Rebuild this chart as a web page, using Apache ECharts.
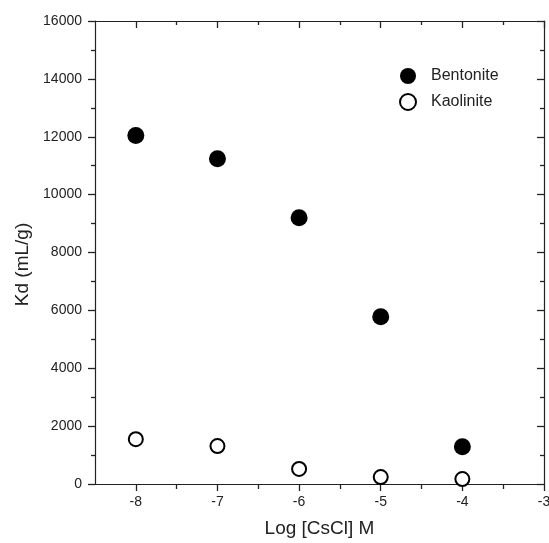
<!DOCTYPE html>
<html>
<head>
<meta charset="utf-8">
<script src="https://cdn.jsdelivr.net/npm/echarts@6/dist/echarts.min.js"></script>
<style>
html, body { margin: 0; padding: 0; background: #fff; }
#main { width: 549px; height: 543px; }
</style>
</head>
<body>
<div id="main"></div>
<script>
// values
var logConc = [-8, -7, -6, -5, -4];
var bentonite = [12040, 11240, 9200, 5780, 1290];
var kaolinite = [1550, 1310, 520, 240, 170];
var xMajor = [-8, -7, -6, -5, -4, -3];
var xMinor = [-7.5, -6.5, -5.5, -4.5, -3.5];

var font = 'Liberation Sans, Arial, sans-serif';
var ink = '#222';

function pairs(ys) {
	return logConc.map(function(x, i) { return [x, ys[i]]; });
}

// one x axis per tick set (major/minor, bottom/top)
function xAxisOf(pos, vals, len, inside, withLine, withLabel) {
	return {
		type: 'value',
		position: pos,
		min: -8.5,
		max: -3,
		interval: 0.5,
		axisLine: { show: withLine, onZero: false, lineStyle: { color: ink, width: 1.2 } },
		axisTick: { show: true, inside: inside, length: len, customValues: vals,
			lineStyle: { color: ink, width: 1.3 } },
		axisLabel: { show: withLabel, customValues: vals, margin: 11,
			color: ink, fontSize: 14, fontFamily: font },
		splitLine: { show: false },
		name: withLabel ? 'Log [CsCl] M' : '',
		nameLocation: 'middle',
		nameGap: 35,
		nameTextStyle: { fontSize: 19, color: ink, fontFamily: font }
	};
}

function yAxisOf(pos, inside, withLabel) {
	return {
		type: 'value',
		position: pos,
		min: 0,
		max: 16000,
		interval: 2000,
		axisLine: { show: true, onZero: false, lineStyle: { color: ink, width: 1.2 } },
		axisTick: { show: true, inside: inside, length: 7, lineStyle: { color: ink, width: 1.3 } },
		minorTick: { show: true, splitNumber: 2, length: 4, lineStyle: { color: ink, width: 1.3 } },
		axisLabel: { show: withLabel, margin: 13, color: ink, fontSize: 14, fontFamily: font,
			formatter: function(v) { return String(v); } },
		splitLine: { show: false },
		name: withLabel ? 'Kd (mL/g)' : '',
		nameLocation: 'middle',
		nameGap: 58,
		nameTextStyle: { fontSize: 19, color: ink, fontFamily: font, padding: [0, 24, 0, 0] }
	};
}

var myChart = echarts.init(document.getElementById('main'));

var option = {
	backgroundColor: '#fff',
	animation: false,
	grid: { left: 95, right: 5, top: 21, bottom: 59, containLabel: false, outerBoundsMode: 'none' },
	legend: {
		orient: 'vertical',
		left: 394,
		top: 63,
		itemWidth: 16,
		itemHeight: 16,
		itemGap: 9,
		textStyle: { fontSize: 16, color: ink, fontFamily: font, padding: [0, 0, 0, 10] },
		data: ['Bentonite', 'Kaolinite']
	},
	xAxis: [
		xAxisOf('bottom', xMajor, 7, false, true, true),
		xAxisOf('bottom', xMinor, 5, false, false, false),
		xAxisOf('top', xMajor, 7, true, true, false),
		xAxisOf('top', xMinor, 4, true, false, false)
	],
	yAxis: [
		yAxisOf('left', false, true),
		yAxisOf('right', true, false)
	],
	series: [{
		name: 'Bentonite',
		type: 'scatter',
		symbol: 'circle',
		symbolSize: 17,
		itemStyle: { color: '#000', opacity: 1 },
		data: pairs(bentonite)
	}, {
		name: 'Kaolinite',
		type: 'scatter',
		symbol: 'circle',
		symbolSize: 14,
		itemStyle: { color: '#fff', borderColor: '#000', borderWidth: 2, opacity: 1 },
		data: pairs(kaolinite)
	}]
};

myChart.setOption(option);
</script>
</body>
</html>
